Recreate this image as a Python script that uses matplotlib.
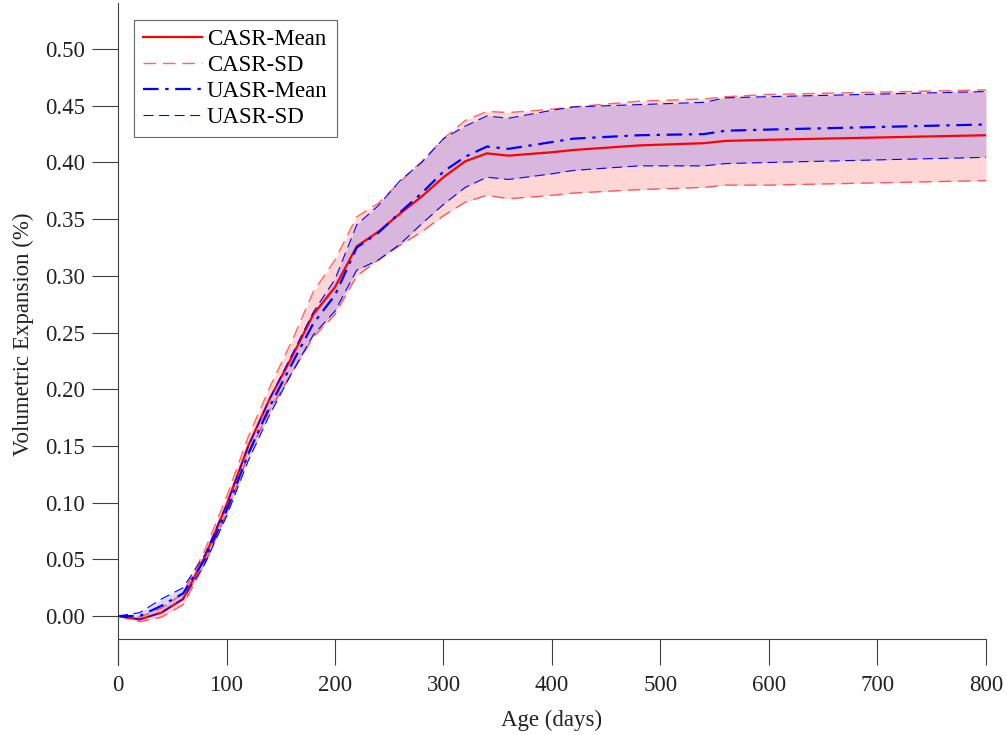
import numpy as np
import matplotlib
matplotlib.use('Agg')
import matplotlib.pyplot as plt

plt.rcParams['font.family'] = ['Liberation Serif', 'DejaVu Serif']
plt.rcParams['mathtext.fontset'] = 'stix'

# age (days)
days = [0, 20, 40, 60, 80, 100, 120, 140, 160, 180, 200, 220, 240, 260,
        280, 300, 320, 340, 360, 400, 420, 480, 540, 560, 600, 800]

casr_mean = [0.000, -0.003, 0.003, 0.015, 0.052, 0.098, 0.150, 0.192, 0.228,
             0.266, 0.290, 0.326, 0.339, 0.355, 0.370, 0.387, 0.401, 0.408,
             0.406, 0.409, 0.411, 0.415, 0.417, 0.419, 0.420, 0.424]
casr_sd = [0.000, 0.002, 0.004, 0.005, 0.006, 0.007, 0.008, 0.010, 0.014,
           0.020, 0.024, 0.026, 0.025, 0.028, 0.031, 0.034, 0.036, 0.037,
           0.038, 0.038, 0.038, 0.039, 0.039, 0.039, 0.040, 0.040]

uasr_mean = [0.000, 0.000, 0.009, 0.020, 0.050, 0.093, 0.143, 0.185, 0.222,
             0.258, 0.283, 0.325, 0.338, 0.356, 0.373, 0.392, 0.405, 0.414,
             0.412, 0.418, 0.421, 0.424, 0.425, 0.428, 0.429, 0.4335]
uasr_sd = [0.000, 0.003, 0.006, 0.005, 0.004, 0.005, 0.006, 0.007, 0.008,
           0.010, 0.014, 0.020, 0.024, 0.028, 0.027, 0.029, 0.027, 0.027,
           0.027, 0.028, 0.028, 0.027, 0.028, 0.029, 0.029, 0.029]

x = np.array(days)
cm, cs = np.array(casr_mean), np.array(casr_sd)
um, us = np.array(uasr_mean), np.array(uasr_sd)

fig = plt.figure(figsize=(10.07, 7.35), dpi=100)
ax = fig.add_axes([0.1172, 0.0952, 0.9791 - 0.1172, 0.9959 - 0.0952])

# bands
ax.fill_between(x, cm - cs, cm + cs, color=(1, 0, 0), alpha=0.16, lw=0)
ax.fill_between(x, um - us, um + us, color=(0, 0, 1), alpha=0.15, lw=0)

ax.plot(x, cm, color='red', lw=1.6, label='CASR-Mean')
ax.plot(x, cm + cs, color='red', lw=1.0, alpha=0.6, dashes=(9, 5), label='CASR-SD')
ax.plot(x, cm - cs, color='red', lw=1.0, alpha=0.6, dashes=(9, 5))
ax.plot(x, um, color='blue', lw=1.6, dashes=(7, 3, 1.5, 3), label='UASR-Mean')
ax.plot(x, um + us, color='blue', lw=0.8, dashes=(9, 5), label='UASR-SD')
ax.plot(x, um - us, color='blue', lw=0.8, dashes=(9, 5))

ax.set_xlim(0, 800)
ax.set_ylim(-0.0432, 0.5406)
ax.set_xticks(np.arange(0, 801, 100))
ax.set_yticks(np.arange(0, 0.501, 0.05))
ax.yaxis.set_major_formatter(matplotlib.ticker.FormatStrFormatter('%.2f'))

ax.spines['top'].set_visible(False)
ax.spines['right'].set_visible(False)
ax.spines['bottom'].set_position(('data', -0.02))
for s in ('left', 'bottom'):
    ax.spines[s].set_color('#404040')
    ax.spines[s].set_linewidth(0.8)

ax.tick_params(axis='both', direction='out', length=19, width=0.8,
               color='#404040', labelsize=16.5, labelcolor='#222222')
ax.tick_params(axis='y', pad=5)
ax.tick_params(axis='x', pad=7)

ax.set_xlabel('Age (days)', fontsize=16.5, color='#222222', labelpad=10)
ax.set_ylabel('Volumetric Expansion (%)', fontsize=16.5, color='#222222', labelpad=8)

leg = ax.legend(loc='upper left', bbox_to_anchor=(0.018, 0.975), fontsize=16.5,
                fancybox=False, framealpha=1, edgecolor='#666666',
                handlelength=2.6, handletextpad=0.2, borderpad=0.4,
                labelspacing=0.22, borderaxespad=0)
leg.get_frame().set_linewidth(0.8)

fig.savefig('out.png', dpi=100)
